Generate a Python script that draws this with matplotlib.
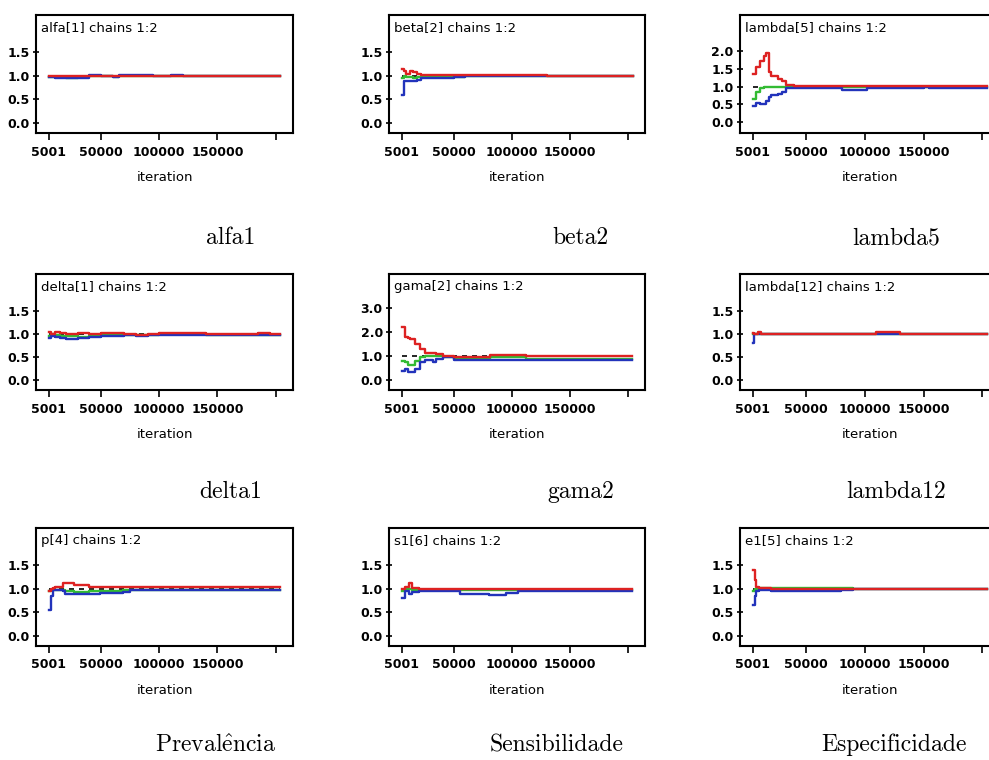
import numpy as np
import matplotlib
matplotlib.use("Agg")
import matplotlib.pyplot as plt

plt.rcParams["mathtext.fontset"] = "cm"

# BGR convergence diagnostics, 3x3 panels
panel_titles = ["alfa[1] chains 1:2", "beta[2] chains 1:2", "lambda[5] chains 1:2",
                "delta[1] chains 1:2", "gama[2] chains 1:2", "lambda[12] chains 1:2",
                "p[4] chains 1:2", "s1[6] chains 1:2", "e1[5] chains 1:2"]
captions = ["alfa1", "beta2", "lambda5",
            "delta1", "gama2", "lambda12",
            r"$\mathrm{Preval\hat{e}ncia}$", "Sensibilidade", "Especificidade"]

alfa1_iter = [5001, 10000, 20000, 30000, 40000, 50000, 60000, 65000, 95000, 110000, 120000, 204000]
alfa1_red = [1.00, 1.00, 1.00, 1.00, 1.00, 1.00, 1.00, 1.00, 1.00, 1.00, 1.00, 1.00]
alfa1_green = [0.98, 0.97, 0.96, 0.97, 0.99, 0.99, 0.98, 1.00, 0.99, 1.00, 0.99, 0.99]
alfa1_blue = [0.97, 0.96, 0.95, 0.96, 1.01, 1.00, 0.98, 1.01, 1.00, 1.01, 1.00, 1.00]

beta2_iter = [5001, 7000, 9000, 12000, 15000, 18000, 22000, 30000, 50000, 60000, 130000, 195000, 205000]
beta2_red = [1.15, 1.10, 1.05, 1.10, 1.08, 1.03, 1.02, 1.02, 1.02, 1.01, 1.00, 1.00, 1.00]
beta2_green = [0.95, 1.00, 0.98, 0.97, 0.95, 0.98, 0.97, 0.97, 0.98, 1.00, 1.00, 1.00, 1.00]
beta2_blue = [0.60, 0.90, 0.88, 0.88, 0.88, 0.92, 0.95, 0.96, 0.97, 1.00, 1.00, 1.00, 1.00]

lambda5_iter = [5001, 8000, 11000, 14000, 16500, 18500, 20000, 26000, 30000, 33500, 40000,
                81000, 102000, 150000, 155000, 204000]
lambda5_red = [1.35, 1.55, 1.70, 1.85, 1.95, 1.40, 1.30, 1.20, 1.15, 1.05, 1.02,
               1.02, 1.02, 1.02, 1.02, 1.02]
lambda5_green = [0.65, 0.85, 0.95, 0.98, 1.00, 1.00, 1.00, 1.00, 1.00, 1.00, 1.00,
                 1.00, 1.00, 1.00, 1.00, 1.00]
lambda5_blue = [0.45, 0.55, 0.50, 0.50, 0.60, 0.70, 0.75, 0.80, 0.85, 0.95, 0.96,
                0.90, 0.96, 0.99, 0.96, 0.96]

delta1_iter = [5001, 7000, 10000, 15000, 20000, 30000, 40000, 50000, 60000, 70000, 80000,
               90000, 100000, 140000, 185000, 195000, 204000]
delta1_red = [1.05, 1.00, 1.05, 1.02, 1.00, 1.02, 1.00, 1.02, 1.02, 1.00, 0.98,
              1.00, 1.02, 1.00, 1.02, 1.00, 1.00]
delta1_green = [0.95, 1.00, 0.97, 0.95, 0.95, 0.93, 0.95, 0.97, 0.98, 0.98, 0.97,
                0.98, 0.99, 0.98, 0.98, 0.98, 0.98]
delta1_blue = [0.90, 0.95, 0.93, 0.90, 0.88, 0.90, 0.93, 0.95, 0.95, 0.97, 0.95,
               0.97, 0.97, 0.97, 0.97, 0.97, 0.97]

gama2_iter = [5001, 7500, 10500, 12000, 16500, 21000, 25500, 32000, 34500, 40500, 50000, 81000, 112000, 204000]
gama2_red = [2.20, 1.80, 1.75, 1.70, 1.50, 1.30, 1.15, 1.15, 1.10, 1.00, 0.95, 1.05, 1.00, 1.00]
gama2_green = [0.80, 0.75, 0.65, 0.65, 0.80, 0.95, 1.00, 1.00, 1.00, 0.95, 0.90, 0.95, 0.90, 0.90]
gama2_blue = [0.40, 0.45, 0.35, 0.35, 0.45, 0.75, 0.85, 0.75, 0.90, 0.95, 0.85, 0.85, 0.85, 0.85]

lambda12_iter = [5001, 6000, 9000, 12000, 20000, 110000, 130000, 204000]
lambda12_red = [1.02, 1.00, 1.03, 1.00, 1.00, 1.03, 1.00, 1.00]
lambda12_green = [1.00, 1.00, 0.99, 1.00, 1.00, 1.00, 1.00, 1.00]
lambda12_blue = [0.80, 1.00, 0.99, 0.99, 0.99, 0.99, 0.99, 0.99]

p4_iter = [5001, 6500, 8500, 10000, 17000, 19000, 27000, 40000, 49000, 69000, 75000, 204000]
p4_red = [0.95, 1.00, 1.02, 1.05, 1.12, 1.12, 1.08, 1.05, 1.04, 1.04, 1.04, 1.04]
p4_green = [0.95, 0.98, 0.98, 0.98, 0.98, 0.95, 0.93, 0.95, 0.95, 0.98, 0.98, 0.98]
p4_blue = [0.55, 0.85, 0.98, 0.97, 0.95, 0.90, 0.88, 0.88, 0.92, 0.93, 0.97, 0.97]

s16_iter = [5001, 8000, 11000, 14000, 20000, 30000, 55000, 75000, 80000, 95000, 105000, 204000]
s16_red = [1.00, 1.05, 1.12, 1.02, 1.00, 1.00, 1.00, 1.00, 1.00, 1.00, 0.99, 0.99]
s16_green = [0.95, 1.00, 1.00, 0.98, 0.97, 0.97, 0.98, 0.97, 0.98, 0.97, 0.97, 0.97]
s16_blue = [0.80, 0.95, 0.88, 0.93, 0.95, 0.95, 0.90, 0.90, 0.87, 0.92, 0.95, 0.95]

e15_iter = [5001, 6500, 8000, 10000, 20000, 80000, 90000, 204000]
e15_red = [1.40, 1.20, 1.05, 1.02, 1.00, 1.00, 1.00, 1.00]
e15_green = [0.95, 1.00, 1.00, 1.02, 1.02, 1.02, 1.00, 1.00]
e15_blue = [0.65, 0.85, 0.95, 0.97, 0.95, 0.97, 1.00, 1.00]

series = [(alfa1_iter, alfa1_red, alfa1_green, alfa1_blue),
          (beta2_iter, beta2_red, beta2_green, beta2_blue),
          (lambda5_iter, lambda5_red, lambda5_green, lambda5_blue),
          (delta1_iter, delta1_red, delta1_green, delta1_blue),
          (gama2_iter, gama2_red, gama2_green, gama2_blue),
          (lambda12_iter, lambda12_red, lambda12_green, lambda12_blue),
          (p4_iter, p4_red, p4_green, p4_blue),
          (s16_iter, s16_red, s16_green, s16_blue),
          (e15_iter, e15_red, e15_green, e15_blue)]

xticks = [5001, 50000, 100000, 150000, 200000]
xticklabels = ["5001", "50000", "100000", "150000", ""]
yticks_std = [0.0, 0.5, 1.0, 1.5]
yticks_l5 = [0.0, 0.5, 1.0, 1.5, 2.0]
yticks_g2 = [0.0, 1.0, 2.0, 3.0]

# layout in pixels
W, H = 989, 760
cols = [(36, 293), (389, 645), (740, 1000)]
rows = [(15, 133), (274, 390), (528, 646)]
caption_x = [231, 580, 896, 231, 581, 896, 215, 557, 894]
caption_y = [238, 492, 745]

fig = plt.figure(figsize=(W / 100, H / 100), dpi=100)
small = dict(family="DejaVu Sans", size=9)

for k in range(9):
    r, c = divmod(k, 3)
    l, rr = cols[c]
    t, b = rows[r]
    ax = fig.add_axes([l / W, 1 - b / H, (rr - l) / W, (b - t) / H])
    it, red, green, blue = series[k]
    ax.hlines(1.0, it[0], it[-1], colors="k", linestyles=(0, (3, 3)), lw=1.2, zorder=1)
    ax.step(it, green, where="post", color="#33bb33", lw=1.7, zorder=2)
    ax.step(it, blue, where="post", color="#2233bb", lw=1.7, zorder=3)
    ax.step(it, red, where="post", color="#dd2222", lw=1.7, zorder=4)

    ax.set_xlim(-6000, 215000)
    if k == 2:
        ax.set_ylim(-0.3, 3.0)
        yt = yticks_l5
    elif k == 4:
        ax.set_ylim(-0.4, 4.4)
        yt = yticks_g2
    else:
        ax.set_ylim(-0.22, 2.3)
        yt = yticks_std
    ax.set_yticks(yt)
    ax.set_yticklabels(["%.1f" % v for v in yt], fontdict=dict(small, weight="bold"))
    ax.set_xticks(xticks)
    ax.set_xticklabels(xticklabels, fontdict=dict(small, weight="bold"))
    ax.tick_params(axis="y", direction="inout", length=5, width=1.2, pad=2)
    ax.tick_params(axis="x", direction="out", length=5, width=1.2, pad=4)
    for s in ax.spines.values():
        s.set_linewidth(1.5)
    if c == 2:
        # right border falls outside the picture
        ax.spines["right"].set_visible(False)
    ax.set_xlabel("iteration", fontdict=dict(small, size=9.5), labelpad=9)
    ax.text(0.02, 0.95, panel_titles[k], transform=ax.transAxes, ha="left", va="top",
            fontdict=dict(small, size=9.5))

    fig.text(caption_x[k] / W, 1 - caption_y[r] / H, captions[k], ha="center", va="center",
             family="cmr10", fontsize=17)

fig.savefig("out.png", dpi=100, facecolor="white")
